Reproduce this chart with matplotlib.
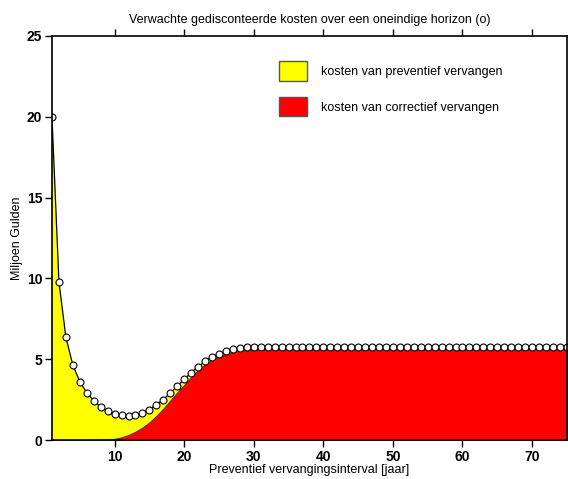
import numpy as np
import matplotlib
matplotlib.use("Agg")
import matplotlib.pyplot as plt
from matplotlib.patches import Patch

plt.rcParams['font.family'] = ['Liberation Sans', 'DejaVu Sans']

# preventief vervangingsinterval [jaar]
interval = list(range(1, 76))

# totale verwachte gedisconteerde kosten (miljoen gulden)
total_cost = [20.0, 9.8, 6.35, 4.64, 3.61, 2.93, 2.43, 2.06, 1.80, 1.61,
              1.53, 1.49, 1.55, 1.69, 1.88, 2.19, 2.50, 2.91, 3.34, 3.76,
              4.17, 4.54, 4.87, 5.14, 5.32, 5.49, 5.61, 5.69, 5.73, 5.75] + [5.76] * 45

# kosten van correctief vervangen
corrective_cost = [0.0, 0.0, 0.0, 0.0, 0.005, 0.01, 0.02, 0.03, 0.05, 0.08,
                   0.17, 0.32, 0.52, 0.78, 1.10, 1.50, 1.95, 2.45, 2.95, 3.42,
                   3.90, 4.33, 4.70, 4.97, 5.18, 5.33, 5.45, 5.53, 5.58, 5.62] + [5.66] * 45

labels = ['kosten van preventief vervangen', 'kosten van correctief vervangen']

x = np.array(interval)
tot = np.array(total_cost)
corr = np.array(corrective_cost)

fig = plt.figure(figsize=(5.68, 4.79), dpi=100)
ax = fig.add_axes([0.0915, 0.0814, 0.9065, 0.8436])

ax.fill_between(x, 0, tot, facecolor='#ffff00', edgecolor='none')
ax.fill_between(x, 0, corr, facecolor='#ff0000', edgecolor='#333333', linewidth=0.6)
ax.plot(x, tot, color='black', linewidth=0.9, marker='o', markersize=5,
        markerfacecolor='white', markeredgecolor='black', markeredgewidth=0.8)

ax.set_xlim(1, 75)
ax.set_ylim(0, 25)
ax.set_xticks(range(10, 71, 10))
ax.set_yticks(range(0, 26, 5))
ax.tick_params(axis='both', direction='out', length=5, width=1, labelsize=10, pad=2)
ax.tick_params(top=True, labeltop=False, right=False)
for lab in ax.get_xticklabels() + ax.get_yticklabels():
    lab.set_fontweight('bold')
for sp in ax.spines.values():
    sp.set_linewidth(1.2)

ax.set_xlabel('Preventief vervangingsinterval [jaar]', fontsize=9, labelpad=0)
ax.set_ylabel('Miljoen Gulden', fontsize=9, labelpad=3)
ax.set_title('Verwachte gedisconteerde kosten over een oneindige horizon (o)', fontsize=9, pad=9)

handles = [Patch(facecolor='#ffff00', edgecolor='#555555', label=labels[0]),
           Patch(facecolor='#ff0000', edgecolor='#555555', label=labels[1])]
ax.legend(handles=handles, loc='upper left', bbox_to_anchor=(0.42, 0.965), frameon=False,
          fontsize=9, handlelength=2.2, handleheight=2.0, handletextpad=1.1, labelspacing=1.3)

fig.savefig('out.png', dpi=100)
